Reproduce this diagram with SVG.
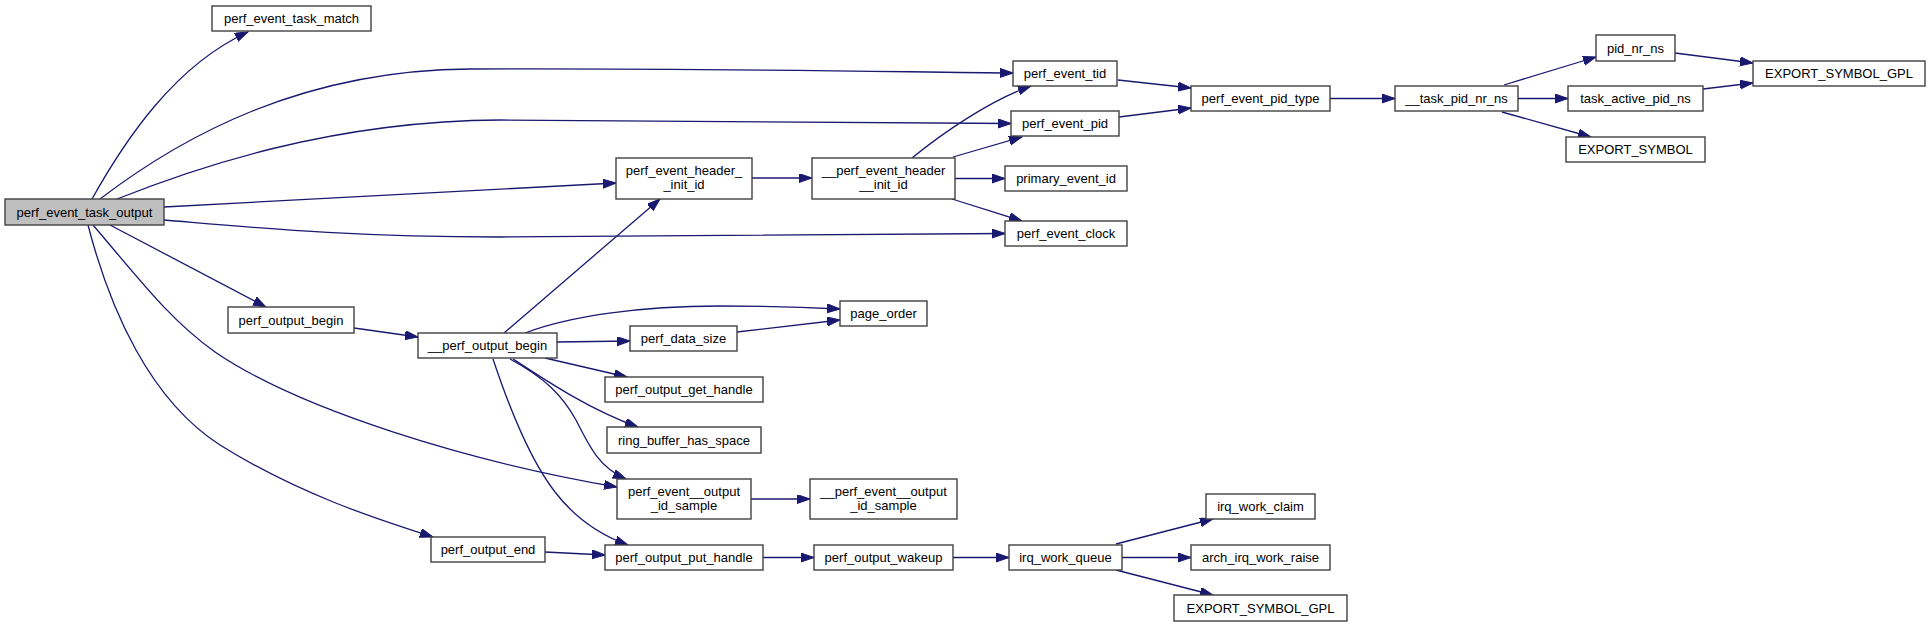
<svg xmlns="http://www.w3.org/2000/svg" width="1931" height="627" viewBox="0 0 1931 627">
<style>
.n rect{fill:#ffffff;stroke:#404040;stroke-width:1.4}
.root rect{fill:#bfbfbf}
.n text{font-family:"Liberation Sans",Arial,sans-serif;font-size:13px;fill:#000;text-anchor:middle}
.e path{fill:none;stroke:#191970;stroke-width:1.3;marker-end:url(#ah)}
</style>
<defs>
<marker id="ah" markerUnits="userSpaceOnUse" markerWidth="14" markerHeight="10" refX="13" refY="4.5" orient="auto">
<path d="M0,0 L13,4.5 L0,9 z" fill="#191970" stroke="#191970" stroke-width="1"/>
</marker>
</defs>
<rect width="1931" height="627" fill="#ffffff"/>
<g id="edges" class="e">
<path d="M92,199 C125,140 175,65 248,32"/>
<path d="M100,199 C180,138 300,70 470,69 C700,68 900,72 1013,73"/>
<path d="M117,199 C195,168 330,121 500,120 C700,120 900,123 1011,123.5"/>
<path d="M164,207 L616,183"/>
<path d="M164,220 C260,228 350,237 500,237 C700,237 900,234 1005,233.5"/>
<path d="M110,225 L266,307"/>
<path d="M93,225 C140,280 170,320 215,352 C300,410 470,462 617,487"/>
<path d="M88,225 C110,310 150,400 220,445 C300,495 380,520 433,537"/>
<path d="M354,328 L418,337"/>
<path d="M504,333 L660,199"/>
<path d="M525,333 C570,316 640,306 720,306 C780,306 820,308 840,309"/>
<path d="M557,342 L630,341"/>
<path d="M545,358 L627,377"/>
<path d="M513,359 C545,380 590,410 638,427"/>
<path d="M510,359 C545,378 562,395 576,420 C590,448 600,468 626,479"/>
<path d="M493,359 C510,410 530,460 555,492 C575,518 600,535 628,545"/>
<path d="M737,332 L840,320"/>
<path d="M545,552 L605,555"/>
<path d="M752,178 L812,178"/>
<path d="M912,158 C940,135 990,100 1031,86"/>
<path d="M953,157 L1022,137"/>
<path d="M955,178.5 L1005,178.5"/>
<path d="M952,199 L1022,221"/>
<path d="M1118,80 L1191,88"/>
<path d="M1119,117 L1191,108"/>
<path d="M1330,98.5 L1395,98.5"/>
<path d="M1504,85 L1596,57"/>
<path d="M1518,98.5 L1568,98.5"/>
<path d="M1502,112 L1591,137"/>
<path d="M1675,53 L1753,63"/>
<path d="M1703,89 L1753,83"/>
<path d="M751,499 L810,499"/>
<path d="M763,557.5 L814,557.5"/>
<path d="M953,557.5 L1009,557.5"/>
<path d="M1116,544 L1213,519"/>
<path d="M1122,557.5 L1191,557.5"/>
<path d="M1116,570 L1213,595"/>
</g>
<g id="perf_event_task_output" class="n root"><rect x="5" y="199" width="159" height="26"/><text x="84.5" y="216.5">perf_event_task_output</text></g>
<g id="perf_event_task_match" class="n"><rect x="212" y="6" width="159" height="25"/><text x="291.5" y="23">perf_event_task_match</text></g>
<g id="perf_event_tid" class="n"><rect x="1013" y="61" width="104" height="25"/><text x="1065" y="78">perf_event_tid</text></g>
<g id="perf_event_pid" class="n"><rect x="1011" y="111" width="108" height="25"/><text x="1065" y="128">perf_event_pid</text></g>
<g id="perf_event_header__init_id" class="n"><rect x="616" y="158" width="136" height="41"/><text x="684" y="175">perf_event_header_</text><text x="684" y="189">_init_id</text></g>
<g id="__perf_event_header__init_id" class="n"><rect x="812" y="158" width="143" height="41"/><text x="883.5" y="175">__perf_event_header</text><text x="883.5" y="189">__init_id</text></g>
<g id="primary_event_id" class="n"><rect x="1005" y="166" width="122" height="25"/><text x="1066" y="183">primary_event_id</text></g>
<g id="perf_event_clock" class="n"><rect x="1005" y="221" width="122" height="25"/><text x="1066" y="238">perf_event_clock</text></g>
<g id="perf_event_pid_type" class="n"><rect x="1191" y="86" width="139" height="25"/><text x="1260.5" y="103">perf_event_pid_type</text></g>
<g id="__task_pid_nr_ns" class="n"><rect x="1395" y="86" width="123" height="25"/><text x="1456.5" y="103">__task_pid_nr_ns</text></g>
<g id="pid_nr_ns" class="n"><rect x="1596" y="35" width="79" height="26"/><text x="1635.5" y="52.5">pid_nr_ns</text></g>
<g id="task_active_pid_ns" class="n"><rect x="1568" y="86" width="135" height="25"/><text x="1635.5" y="103">task_active_pid_ns</text></g>
<g id="EXPORT_SYMBOL" class="n"><rect x="1566" y="137" width="139" height="25"/><text x="1635.5" y="154">EXPORT_SYMBOL</text></g>
<g id="EXPORT_SYMBOL_GPL" class="n"><rect x="1753" y="61" width="172" height="25"/><text x="1839" y="78">EXPORT_SYMBOL_GPL</text></g>
<g id="perf_output_begin" class="n"><rect x="228" y="307" width="126" height="26"/><text x="291" y="324.5">perf_output_begin</text></g>
<g id="__perf_output_begin" class="n"><rect x="418" y="333" width="139" height="25"/><text x="487.5" y="350">__perf_output_begin</text></g>
<g id="page_order" class="n"><rect x="840" y="301" width="87" height="25"/><text x="883.5" y="318">page_order</text></g>
<g id="perf_data_size" class="n"><rect x="630" y="326" width="107" height="25"/><text x="683.5" y="343">perf_data_size</text></g>
<g id="perf_output_get_handle" class="n"><rect x="605" y="377" width="158" height="25"/><text x="684" y="394">perf_output_get_handle</text></g>
<g id="ring_buffer_has_space" class="n"><rect x="607" y="427" width="154" height="26"/><text x="684" y="444.5">ring_buffer_has_space</text></g>
<g id="perf_event__output_id_sample" class="n"><rect x="617" y="479" width="134" height="40"/><text x="684" y="495.5">perf_event__output</text><text x="684" y="509.5">_id_sample</text></g>
<g id="__perf_event__output_id_sample" class="n"><rect x="810" y="479" width="147" height="40"/><text x="883.5" y="495.5">__perf_event__output</text><text x="883.5" y="509.5">_id_sample</text></g>
<g id="perf_output_end" class="n"><rect x="431" y="537" width="114" height="25"/><text x="488" y="554">perf_output_end</text></g>
<g id="perf_output_put_handle" class="n"><rect x="605" y="545" width="158" height="25"/><text x="684" y="562">perf_output_put_handle</text></g>
<g id="perf_output_wakeup" class="n"><rect x="814" y="545" width="139" height="25"/><text x="883.5" y="562">perf_output_wakeup</text></g>
<g id="irq_work_queue" class="n"><rect x="1009" y="545" width="113" height="25"/><text x="1065.5" y="562">irq_work_queue</text></g>
<g id="irq_work_claim" class="n"><rect x="1206" y="494" width="109" height="25"/><text x="1260.5" y="511">irq_work_claim</text></g>
<g id="arch_irq_work_raise" class="n"><rect x="1191" y="545" width="139" height="25"/><text x="1260.5" y="562">arch_irq_work_raise</text></g>
<g id="EXPORT_SYMBOL_GPL_2" class="n"><rect x="1174" y="595" width="173" height="26"/><text x="1260.5" y="612.5">EXPORT_SYMBOL_GPL</text></g>
</svg>
